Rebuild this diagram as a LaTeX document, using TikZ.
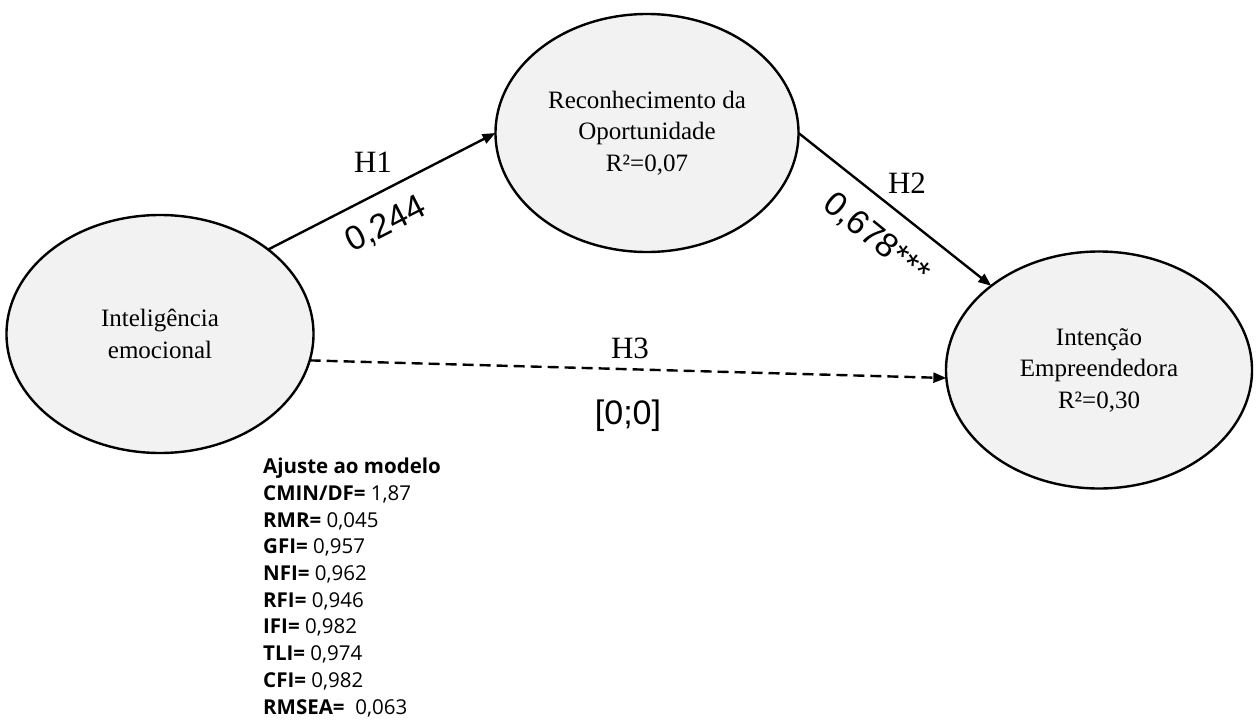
\documentclass[tikz,border=0pt]{standalone}
\usepackage{fontspec}
\setmainfont{Liberation Serif}
\newfontfamily\lsans{Liberation Sans}
\newfontfamily\osans{Open Sans}
\usetikzlibrary{shapes.geometric,arrows.meta}
\definecolor{latfill}{HTML}{F2F2F2}
\begin{document}
\begin{tikzpicture}[x=1pt,y=-1pt,
  latent/.style={ellipse,draw,line width=2.4pt,fill=latfill,inner sep=0pt,outer sep=0pt,
    align=center,font=\fontsize{25}{31.5}\selectfont},
  pathline/.style={line width=2.4pt,-{Triangle[length=13pt,width=10pt]}},
  dashline/.style={pathline,dash pattern=on 11pt off 6pt},
  hyp/.style={font=\fontsize{31}{31}\selectfont,inner sep=0pt},
  coef/.style={font=\lsans\fontsize{34}{34}\selectfont,inner sep=0pt},
  fitbox/.style={font=\osans\fontsize{20.5}{26.7}\selectfont,align=left,inner sep=0pt}]
\useasboundingbox (0,0) rectangle (1257,720);
\node[latent, minimum width=307pt, minimum height=238pt] (ie) at (160,334) {Inteligência\\emocional};
\node[latent, minimum width=303pt, minimum height=238pt] (ro) at (647,133) {Reconhecimento da\\Oportunidade\\R²=0,07};
\node[latent, minimum width=306pt, minimum height=237pt] (ei) at (1099,370) {Intenção\\Empreendedora\\R²=0,30};
\draw[pathline] (ie.38) -- (ro.west);
\draw[pathline] (ro.east) -- (ei.142);
\draw[dashline] (ie.-10) -- (ei.183);
\node[hyp] (h1) at (373,162) {H1};
\node[hyp] (h2) at (907,183) {H2};
\node[hyp] (h3) at (630,348) {H3};
\node[coef, rotate=27] (c1) at (386,225) {0,244};
\node[coef, rotate=-39] (c2) at (876,239) {0,678***};
\node[coef] (c3) at (628,416) {[0;0]};
\node[fitbox, anchor=north west] (fit) at (263,458) {\textbf{Ajuste ao modelo}\\
\textbf{CMIN/DF=} 1,87\\
\textbf{RMR=} 0,045\\
\textbf{GFI=} 0,957\\
\textbf{NFI=} 0,962\\
\textbf{RFI=} 0,946\\
\textbf{IFI=} 0,982\\
\textbf{TLI=} 0,974\\
\textbf{CFI=} 0,982\\
\textbf{RMSEA=}\ \ 0,063};
\end{tikzpicture}
\end{document}
